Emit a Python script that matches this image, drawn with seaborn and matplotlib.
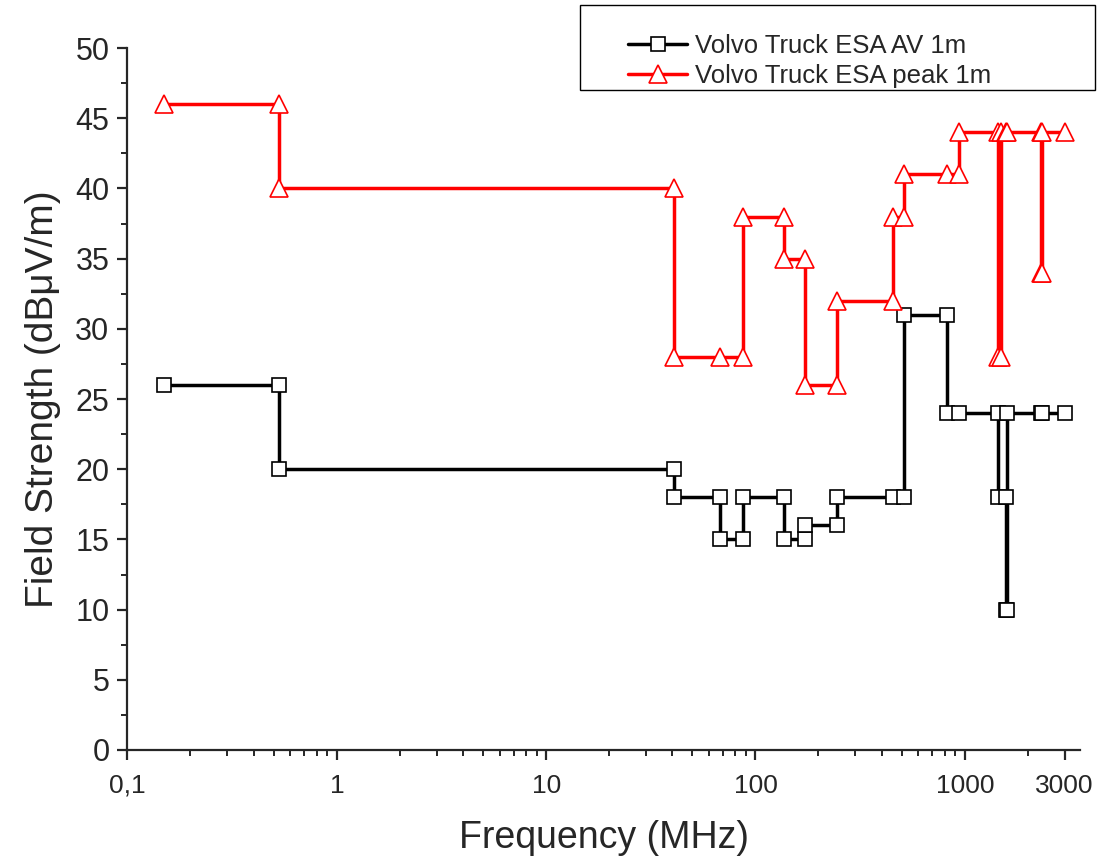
import matplotlib
matplotlib.use("Agg")
import matplotlib.pyplot as plt
from matplotlib.ticker import FixedLocator, FixedFormatter, NullFormatter
from matplotlib.lines import Line2D
from matplotlib.patches import Rectangle
import numpy as np
import pandas as pd
import seaborn as sns

# ESA radiated emission limits, stepwise (frequency in MHz, level in dBuV/m)
av_freq = [0.15, 0.53, 0.53, 41, 41, 68, 68, 87, 87, 137, 137, 172, 172, 245, 245,
           452, 512, 512, 820, 820, 940, 1447, 1447, 1567, 1567, 1583, 1583,
           2320, 2345, 3000]
av_level = [26, 26, 20, 20, 18, 18, 15, 15, 18, 18, 15, 15, 16, 16, 18,
            18, 18, 31, 31, 24, 24, 24, 18, 18, 10, 10, 24,
            24, 24, 24]

peak_freq = [0.15, 0.53, 0.53, 41, 41, 68, 87, 87, 137, 137, 172, 172, 245, 245,
             452, 452, 512, 512, 820, 940, 940, 1447, 1447, 1492, 1492, 1567, 1583,
             2320, 2320, 2345, 2345, 3000]
peak_level = [46, 46, 40, 40, 28, 28, 28, 38, 38, 35, 35, 26, 26, 32,
              32, 38, 38, 41, 41, 41, 44, 44, 28, 28, 44, 44, 44,
              44, 34, 34, 44, 44]

series_av = "Volvo Truck ESA AV 1m"
series_peak = "Volvo Truck ESA peak 1m"

x_ticks = [0.1, 1, 10, 100, 1000, 3000]
x_tick_labels = ["0,1", "1", "10", "100", "1000", "3000"]
y_ticks = [0, 5, 10, 15, 20, 25, 30, 35, 40, 45, 50]

df = pd.concat([
    pd.DataFrame({"freq": av_freq, "level": av_level, "series": series_av,
                  "order": np.arange(len(av_freq))}),
    pd.DataFrame({"freq": peak_freq, "level": peak_level, "series": series_peak,
                  "order": np.arange(len(peak_freq))}),
], ignore_index=True)

sns.set_style("ticks")
plt.rcParams["font.family"] = ["Liberation Sans", "DejaVu Sans"]
plt.rcParams["axes.linewidth"] = 1.6

W, H = 1099, 859
fig = plt.figure(figsize=(W / 100, H / 100), dpi=100)
ax = fig.add_axes([0.1160, 0.1269, 0.8667, 0.8171])

colors = {series_av: "black", series_peak: "red"}
markers = {series_av: "s", series_peak: "^"}

sns.lineplot(data=df, x="freq", y="level", hue="series", style="series",
             palette=colors, markers=markers, dashes=False, sort=False,
             estimator=None, units="series", ax=ax, legend=False,
             linewidth=2.5, markersize=10, markeredgewidth=1.2)

for line in ax.lines:
    line.set_markerfacecolor("white")
    line.set_markeredgecolor(line.get_color())
    line.set_markersize(13 if line.get_marker() == "^" else 9.5)

ax.set_xscale("log")
ax.set_xlim(0.1, 3550)
ax.set_ylim(0, 50)

ax.xaxis.set_major_locator(FixedLocator(x_ticks))
ax.xaxis.set_major_formatter(FixedFormatter(x_tick_labels))
minor_x = [m * 10.0 ** e for e in range(-1, 3) for m in range(2, 10)] + [2000]
ax.xaxis.set_minor_locator(FixedLocator(minor_x))
ax.xaxis.set_minor_formatter(NullFormatter())

ax.yaxis.set_major_locator(FixedLocator(y_ticks))
ax.yaxis.set_minor_locator(FixedLocator([v + 2.5 for v in y_ticks[:-1]]))

ax.tick_params(axis="both", which="major", direction="out", length=7, width=1.6)
ax.tick_params(axis="x", which="major", labelsize=19, pad=10)
ax.tick_params(axis="y", which="major", labelsize=22, pad=6)
ax.tick_params(axis="both", which="minor", direction="out", length=4, width=1.4)

sns.despine(ax=ax)

ax.set_xlabel("Frequency (MHz)", fontsize=27, labelpad=16)
ax.set_ylabel("Field Strength (dBμV/m)", fontsize=28, labelpad=10)

# legend box and entries
fig.add_artist(Rectangle((580 / W, 1 - 90 / H), 515 / W, 85 / H,
                         transform=fig.transFigure, facecolor="white",
                         edgecolor="black", linewidth=1.0, zorder=5))
handles = [
    Line2D([], [], color="black", linewidth=2.5, marker="s", markersize=9.5,
           markerfacecolor="white", markeredgecolor="black", markeredgewidth=1.2),
    Line2D([], [], color="red", linewidth=2.5, marker="^", markersize=13,
           markerfacecolor="white", markeredgecolor="red", markeredgewidth=1.2),
]
leg = fig.legend(handles, [series_av, series_peak], loc="upper left",
                 bbox_to_anchor=(628 / W, 1 - 34 / H), fontsize=18.5,
                 frameon=False, handlelength=2.3, handletextpad=0.3,
                 labelspacing=0.25, borderpad=0, borderaxespad=0)
leg.set_zorder(6)

fig.savefig("out.png", dpi=100)
